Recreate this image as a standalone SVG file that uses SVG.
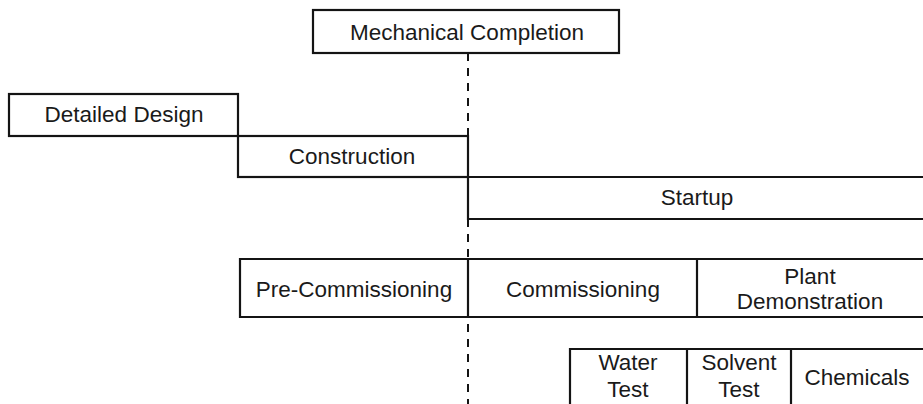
<svg xmlns="http://www.w3.org/2000/svg" width="923" height="404" viewBox="0 0 923 404">
<style>
.b{fill:none;stroke:#141414;stroke-width:2.2}
.t{font-family:"Liberation Sans",Arial,sans-serif;font-size:22.5px;fill:#1a1a1a;text-anchor:middle}
.d{stroke:#141414;stroke-width:2;stroke-dasharray:8 7;fill:none}
</style>
<rect width="923" height="404" fill="#fff"/>
<g id="connectors">
<line class="d" x1="468" y1="53" x2="468" y2="136"/>
<line class="d" x1="468" y1="219" x2="468" y2="404"/>
</g>
<g id="mechanical-completion">
<rect class="b" x="313" y="10" width="306" height="43"/>
<text class="t" x="467" y="40">Mechanical Completion</text>
</g>
<g id="detailed-design">
<rect class="b" x="9" y="94" width="229" height="42"/>
<text class="t" x="124" y="122">Detailed Design</text>
</g>
<g id="construction">
<rect class="b" x="238" y="136" width="230" height="41"/>
<text class="t" x="352" y="164">Construction</text>
</g>
<g id="startup">
<path class="b" d="M468 177H925M468 177V219H925"/>
<text class="t" x="697" y="205">Startup</text>
</g>
<g id="pre-commissioning">
<path class="b" d="M925 259H240V317H925"/>
<text class="t" x="354" y="297">Pre-Commissioning</text>
</g>
<g id="commissioning">
<line class="b" x1="468" y1="259" x2="468" y2="317"/>
<text class="t" x="583" y="297">Commissioning</text>
</g>
<g id="plant-demonstration">
<line class="b" x1="697" y1="259" x2="697" y2="317"/>
<text class="t" x="810" y="284">Plant</text>
<text class="t" x="810" y="309">Demonstration</text>
</g>
<g id="water-test">
<path class="b" d="M925 349H570V406"/>
<text class="t" x="628" y="370">Water</text>
<text class="t" x="628" y="397">Test</text>
</g>
<g id="solvent-test">
<line class="b" x1="687" y1="349" x2="687" y2="406"/>
<text class="t" x="739" y="370">Solvent</text>
<text class="t" x="739" y="397">Test</text>
</g>
<g id="chemicals">
<line class="b" x1="791" y1="349" x2="791" y2="406"/>
<text class="t" x="857" y="385">Chemicals</text>
</g>
</svg>
